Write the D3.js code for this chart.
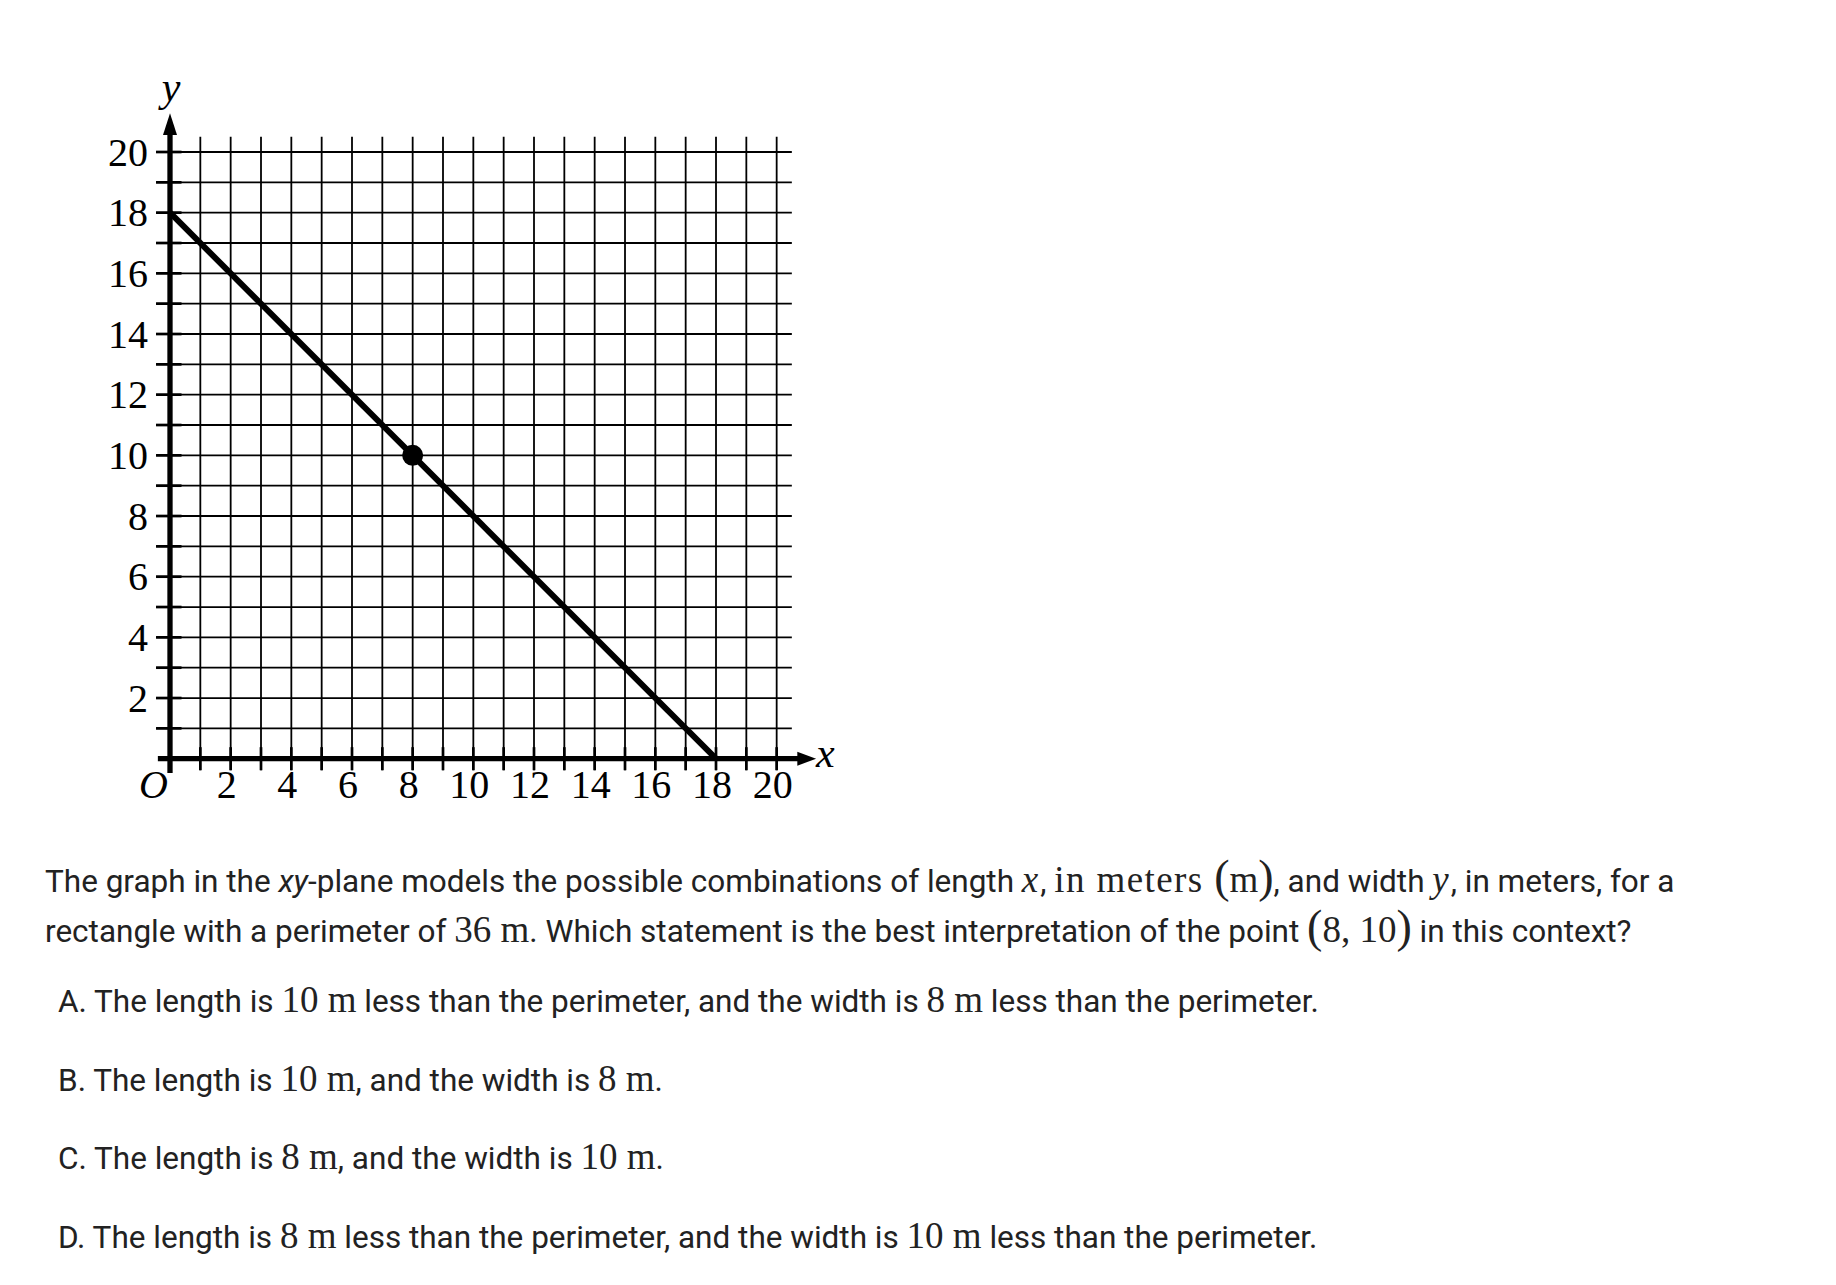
<!DOCTYPE html>
<html>
<head>
<meta charset="utf-8">
<script src="https://cdn.jsdelivr.net/npm/d3@7"></script>
<style>
  html, body { margin: 0; padding: 0; background: #fff; }
  svg text { white-space: pre; }
</style>
</head>
<body>
<svg id="chart" width="1836" height="1285"></svg>
<script>
// ---------- data ----------
const xTickLabels = ["2", "4", "6", "8", "10", "12", "14", "16", "18", "20"];
const yTickLabels = ["2", "4", "6", "8", "10", "12", "14", "16", "18", "20"];
const gridValues = d3.range(1, 21);           // grid lines at every unit
const lineX = [0, 18];                         // x + y = 18 (perimeter 36)
const lineY = [18, 0];
const pointX = [8];
const pointY = [10];

// ---------- text ----------
const SANS = "Roboto, 'Noto Sans', sans-serif";
const SERIF = "'Liberation Serif', 'DejaVu Serif', serif";
const paragraph = [
  [
    {t: "The graph in the "},
    {t: "xy", i: true},
    {t: "-plane models the possible combinations of length "},
    {t: "x", m: true, i: true, ls: 2},
    {t: ", "},
    {t: "in meters ", m: true, ls: 1.4},
    {t: "(", m: true, big: true},
    {t: "m", m: true},
    {t: ")", m: true, big: true},
    {t: ", and width "},
    {t: "y", m: true, i: true, ls: 2},
    {t: ", in meters, for a"}
  ],
  [
    {t: "rectangle with a perimeter of "},
    {t: "36 m", m: true},
    {t: ". Which statement is the best interpretation of the point "},
    {t: "(", m: true, big: true},
    {t: "8, 10", m: true},
    {t: ")", m: true, big: true},
    {t: " in this context?"}
  ]
];
const options = [
  [{t: "A. The length is "}, {t: "10 m", m: true}, {t: " less than the perimeter, and the width is "}, {t: "8 m", m: true}, {t: " less than the perimeter."}],
  [{t: "B. The length is "}, {t: "10 m", m: true}, {t: ", and the width is "}, {t: "8 m", m: true}, {t: "."}],
  [{t: "C. The length is "}, {t: "8 m", m: true}, {t: ", and the width is "}, {t: "10 m", m: true}, {t: "."}],
  [{t: "D. The length is "}, {t: "8 m", m: true}, {t: " less than the perimeter, and the width is "}, {t: "10 m", m: true}, {t: " less than the perimeter."}]
];

// ---------- chart ----------
const svg = d3.select("#chart");
const x = d3.scaleLinear().domain([0, 20]).range([170, 776.67]);
const y = d3.scaleLinear().domain([0, 20]).range([758.7, 152]);

const g = svg.append("g");

// grid
g.selectAll("line.vgrid").data(gridValues).join("line")
  .attr("x1", d => x(d)).attr("x2", d => x(d))
  .attr("y1", y(-0.38)).attr("y2", y(20.5))
  .attr("stroke", "#000").attr("stroke-width", 1.8);
g.selectAll("line.hgrid").data(gridValues).join("line")
  .attr("y1", d => y(d)).attr("y2", d => y(d))
  .attr("x1", x(-0.46)).attr("x2", x(20.5))
  .attr("stroke", "#000").attr("stroke-width", 1.8);

// ticks (slightly heavier)
g.selectAll("line.xtick").data(gridValues).join("line")
  .attr("x1", d => x(d)).attr("x2", d => x(d))
  .attr("y1", y(-0.38)).attr("y2", y(0.38))
  .attr("stroke", "#000").attr("stroke-width", 2.7);
g.selectAll("line.ytick").data(gridValues).join("line")
  .attr("y1", d => y(d)).attr("y2", d => y(d))
  .attr("x1", x(-0.46)).attr("x2", x(0.38))
  .attr("stroke", "#000").attr("stroke-width", 2.7);

// axes
g.append("line").attr("x1", x(-0.4)).attr("x2", x(20.75))
  .attr("y1", y(0)).attr("y2", y(0)).attr("stroke", "#000").attr("stroke-width", 5.3);
g.append("path")
  .attr("d", `M${x(21.3)},${y(0)} L${x(20.68)},${y(0) - 7} L${x(20.68)},${y(0) + 7} Z`)
  .attr("fill", "#000");
g.append("line").attr("x1", x(0)).attr("x2", x(0))
  .attr("y1", y(-0.47)).attr("y2", y(20.6)).attr("stroke", "#000").attr("stroke-width", 5.3);
g.append("path")
  .attr("d", `M${x(0)},${y(21.28)} L${x(0) - 7},${y(20.56)} L${x(0) + 7},${y(20.56)} Z`)
  .attr("fill", "#000");

// tick labels
g.selectAll("text.xl").data(xTickLabels).join("text")
  .attr("x", d => x(+d) - 4).attr("y", 798)
  .attr("text-anchor", "middle")
  .attr("font-family", SERIF).attr("font-size", 40)
  .text(d => d);
g.selectAll("text.yl").data(yTickLabels).join("text")
  .attr("x", 148).attr("y", d => y(+d) + 13.5)
  .attr("text-anchor", "end")
  .attr("font-family", SERIF).attr("font-size", 40)
  .text(d => d);

// axis labels
g.append("text").attr("x", 168).attr("y", 798).attr("text-anchor", "end")
  .attr("font-family", SERIF).attr("font-style", "italic").attr("font-size", 40).text("O");
g.append("text").attr("x", 816).attr("y", 767)
  .attr("font-family", SERIF).attr("font-style", "italic").attr("font-size", 42).text("x");
g.append("text").attr("x", 171).attr("y", 101).attr("text-anchor", "middle")
  .attr("font-family", SERIF).attr("font-style", "italic").attr("font-size", 42).text("y");

// the line
const lineData = lineX.map((v, i) => [v, lineY[i]]);
g.append("path").datum(lineData)
  .attr("d", d3.line().x(d => x(d[0])).y(d => y(d[1])))
  .attr("fill", "none").attr("stroke", "#000").attr("stroke-width", 6);

// the point
g.selectAll("circle.pt").data(pointX.map((v, i) => [v, pointY[i]])).join("circle")
  .attr("cx", d => x(d[0])).attr("cy", d => y(d[1])).attr("r", 10.5).attr("fill", "#000");

// ---------- text block ----------
function writeLine(parts, x0, yb) {
  const t = svg.append("text").attr("x", x0).attr("y", yb)
    .attr("fill", "#222").attr("font-size", 31.5).attr("font-family", SANS);
  parts.forEach(p => {
    const s = t.append("tspan").text(p.t);
    if (p.m) {
      s.attr("font-family", SERIF).attr("font-size", p.big ? 46 : 37);
    }
    if (p.ls) s.attr("letter-spacing", p.ls);
    if (p.i) s.attr("font-style", "italic");
  });
  return t;
}
writeLine(paragraph[0], 45, 892);
writeLine(paragraph[1], 45, 942);
const optBase = [1012, 1090.5, 1169, 1247.5];
options.forEach((o, i) => writeLine(o, 58, optBase[i]));
</script>
</body>
</html>
